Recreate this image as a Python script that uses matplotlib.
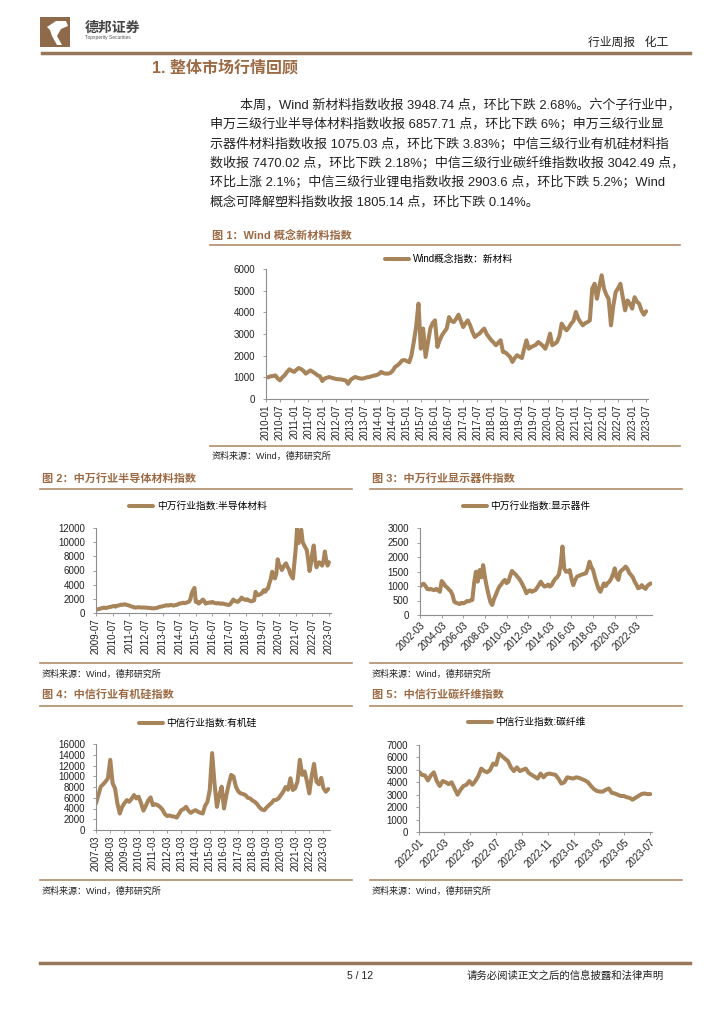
import numpy as np
import pandas as pd
import matplotlib
matplotlib.use('Agg')
import matplotlib.pyplot as plt
import matplotlib.dates as mdates
from matplotlib.patches import Rectangle, Polygon
from matplotlib.lines import Line2D

plt.rcParams['font.family'] = ['Liberation Sans', 'Noto Sans CJK SC']
plt.rcParams['axes.unicode_minus'] = False

### Page size in pixels (figure drawn at dpi 100)
W, H = 724, 1024

LINE = '#a8845b'     # series colour
BROWN = '#9c6b45'    # title colour
RULE = '#b08c68'     # thin rules round the figures
DARK = '#222222'

### ---- data ----

# Fig 1: Wind concept index, new materials, monthly 2010-01 .. 2023-07
wind_new_mat = [
    1015, 1000, 1050, 1060, 1090, 950, 860, 1000, 1100, 1250, 1370, 1300,
    1250, 1350, 1430, 1380, 1300, 1170, 1250, 1320, 1250, 1180, 1090, 1050,
    830, 950, 980, 1015, 980, 950, 920, 910, 900, 880, 850, 700,
    880, 960, 1015, 980, 950, 940, 960, 1000, 1015, 1050, 1080, 1100,
    1150, 1250, 1200, 1170, 1170, 1200, 1300, 1480, 1550, 1650, 1780, 1800,
    1750, 1700, 2000, 2630, 3320, 4400, 2320, 3250, 1940, 2600, 3250, 3500,
    3630, 2400, 2700, 2940, 3100, 3250, 3780, 3600, 3550, 3700, 3890, 3600,
    3320, 3500, 3630, 3400, 3100, 2860, 2950, 3020, 3150, 3250, 3000, 2850,
    2710, 2600, 2480, 2600, 2710, 2170, 2150, 2050, 1940, 1710, 1900, 2020,
    1950, 1890, 2300, 2710, 2320, 2400, 2450, 2500, 2630, 2550, 2450, 2320,
    2600, 3020, 2480, 2550, 2630, 2900, 3480, 3300, 3170, 3300, 3480, 3600,
    4020, 3710, 3550, 3400, 3500, 3550, 3630, 5090, 5320, 4630, 5200, 5710,
    5090, 4800, 4630, 3400, 4300, 4940, 5100, 5320, 4700, 4090, 4550, 4400,
    4170, 4700, 4500, 4400, 4090, 3890, 4050,
]

# Fig 2: SW semiconductor materials, monthly 2009-07 .. 2023-07
sw_semi = [
    470, 520, 560, 600, 680, 720,
    760, 700, 750, 800, 850, 880, 950, 980, 900, 1000, 1050, 1100,
    1180, 1150, 1200, 1230, 1150, 1100, 1050, 950, 900, 850, 760, 780,
    800, 820, 780, 760, 780, 760, 760, 740, 720, 700, 680, 660,
    660, 700, 720, 800, 880, 900, 950, 1000, 1050, 1100, 1050, 1100,
    1140, 1100, 1050, 1100, 1150, 1200, 1330, 1350, 1400, 1450, 1400, 1450,
    1520, 1600, 1900, 2750, 3200, 3550, 1560, 1600, 1330, 1500, 1700, 1900,
    1700, 1330, 1400, 1450, 1500, 1450, 1560, 1450, 1400, 1350, 1400, 1350,
    1300, 1350, 1300, 1230, 1200, 1150, 1140, 1300, 1600, 1900, 1700, 1650,
    1560, 1700, 1900, 2180, 2000, 1900, 1850, 1940, 1800, 1700, 1650, 1700,
    1800, 2990, 2700, 2510, 2600, 2700, 2900, 3220, 3000, 3300, 3460, 4200,
    4800, 5830, 5200, 4880, 5500, 7580, 6800, 6500, 6070, 6500, 6800, 7010,
    6500, 6200, 5590, 5200, 4880, 7010, 9000, 12000, 9860, 11500, 11750, 10000,
    9600, 9200, 8900, 7500, 5930, 7000, 8440, 9530, 7500, 6450, 6900, 7160,
    7000, 6690, 7200, 8680, 7500, 6690, 7160,
]

# Fig 3: SW display components, every 2 months 2002-03 .. 2023-07
sw_display = [
    980, 1050, 1080, 1000, 900, 880, 900, 870, 860, 900,
    850, 800, 1170, 1100, 1000, 950, 880, 820, 700, 460,
    420, 400, 380, 420, 400, 430, 480, 470, 500, 520,
    1100, 1490, 1150, 1550, 1300, 1720, 1300, 980, 700, 450,
    345, 550, 690, 850, 980, 1050, 1150, 1210, 1100, 1150,
    1350, 1520, 1450, 1400, 1320, 1250, 1150, 1030, 900, 750,
    820, 850, 800, 830, 860, 950, 1050, 1150, 1050, 980,
    1000, 1050, 980, 1030, 1150, 1250, 1300, 1400, 1720, 2360,
    1600, 1490, 1500, 1550, 1250, 1030, 1200, 1320, 1350, 1380,
    1400, 1420, 1440, 1600, 1840, 1650, 1550, 1300, 1090, 900,
    800, 950, 1090, 1000, 1100, 1150, 1250, 1400, 1610, 1300,
    1210, 1490, 1550, 1600, 1670, 1600, 1450, 1380, 1300, 1150,
    1050, 920, 950, 1030, 950, 900, 1000, 1050, 1090,
]

# Fig 4: CITIC silicone, every 2 months 2007-03 .. 2023-07
citic_silicone = [
    4940, 6500, 8060, 8500, 9000, 9625, 13060, 8690, 7750, 4940,
    3060, 4310, 5000, 5560, 5250, 5800, 6500, 5875, 6190, 5000,
    3600, 4500, 5500, 6060, 4625, 4800, 4625, 4300, 3800, 3000,
    2600, 2700, 2560, 2500, 2310, 3000, 3690, 3900, 4310, 3600,
    3190, 3500, 3690, 3400, 3200, 3060, 4500, 5250, 7440, 14310,
    8690, 4310, 6500, 8060, 4000, 6500, 8500, 10250, 9940, 8060,
    7200, 6810, 6700, 6500, 6000, 5875, 5500, 5250, 4800, 4200,
    3800, 3690, 4200, 4625, 5000, 5560, 5600, 5875, 6500, 7125,
    8000, 7500, 9625, 7440, 7750, 9000, 13060, 10250, 10900, 9000,
    6810, 10000, 12300, 9000, 8500, 9700, 7750, 7125, 7625,
]

# Fig 5: CITIC carbon fibre, weekly from 2022-01-01
citic_carbon = [
    4850, 4590, 4550, 4150, 4550, 4800, 4100, 3700, 4100, 4000,
    3850, 4000, 3500, 3000, 3400, 3700, 3800, 4100, 3800, 4100,
    4500, 5100, 4900, 4800, 5000, 5500, 5400, 6300, 6100, 5900,
    5700, 5200, 4900, 5200, 4900, 5000, 5100, 4750, 4600, 4450,
    4300, 4700, 4400, 4650, 4700, 4650, 4600, 4300, 3900, 4000,
    4400, 4350, 4300, 4400, 4350, 4250, 4150, 4000, 3700, 3450,
    3300, 3250, 3250, 3400, 3500, 3150, 3100, 3000, 2900, 2900,
    2800, 2750, 2600, 2750, 2900, 3050, 3100, 3050, 3050,
]

para_lines = [
    '本周，Wind 新材料指数收报 3948.74 点，环比下跌 2.68%。六个子行业中，',
    '申万三级行业半导体材料指数收报 6857.71 点，环比下跌 6%；申万三级行业显',
    '示器件材料指数收报 1075.03 点，环比下跌 3.83%；中信三级行业有机硅材料指',
    '数收报 7470.02 点，环比下跌 2.18%；中信三级行业碳纤维指数收报 3042.49 点，',
    '环比上涨 2.1%；中信三级行业锂电指数收报 2903.6 点，环比下跌 5.2%；Wind',
    '概念可降解塑料指数收报 1805.14 点，环比下跌 0.14%。',
]

source_text = '资料来源：Wind，德邦研究所'


def box(x0, y0, x1, y1):
    return [x0 / W, 1 - y1 / H, (x1 - x0) / W, (y1 - y0) / H]


def ftext(x, y, s, **kw):
    fig.text(x / W, 1 - y / H, s, **kw)


def hrule(x0, x1, y, color=RULE, lw=1.2):
    fig.add_artist(Line2D([x0 / W, x1 / W], [1 - y / H, 1 - y / H],
                          transform=fig.transFigure, color=color, lw=lw))


def draw_chart(rect, start, freq, values, label, ymax, ystep, xlim,
               locator, rot, leg_xy):
    dates = pd.date_range(start, periods=len(values), freq=freq)
    ax = fig.add_axes(box(*rect))
    ax.plot(dates, values, color=LINE, lw=2.9, label=label,
            solid_joinstyle='round', solid_capstyle='round')
    ax.set_ylim(0, ymax)
    ax.set_yticks(np.arange(0, ymax + 1, ystep))
    ax.set_xlim(pd.Timestamp(xlim[0]), pd.Timestamp(xlim[1]))
    ax.xaxis.set_major_locator(locator)
    ax.xaxis.set_major_formatter(mdates.DateFormatter('%Y-%m'))
    for s in ['top', 'right']:
        ax.spines[s].set_visible(False)
    for s in ['left', 'bottom']:
        ax.spines[s].set_color('#8f8f8f')
        ax.spines[s].set_linewidth(0.8)
    ax.tick_params(axis='both', length=2.5, width=0.6, color='#8f8f8f',
                   labelsize=7, labelcolor=DARK)
    ax.tick_params(axis='y', pad=5.5)
    ax.tick_params(axis='x', pad=1.5)
    if rot == 90:
        plt.setp(ax.get_xticklabels(), rotation=90, ha='center', va='top')
    else:
        plt.setp(ax.get_xticklabels(), rotation=45, ha='right', va='top',
                 rotation_mode='anchor')
    ax.legend(loc='center', bbox_to_anchor=(leg_xy[0] / W, 1 - leg_xy[1] / H),
              bbox_transform=fig.transFigure, frameon=False, fontsize=7,
              handlelength=2.4, handletextpad=0.4, borderaxespad=0)
    return ax


fig = plt.figure(figsize=(W / 100, H / 100), dpi=100)

### ---- page header ----
fig.add_artist(Rectangle((40 / W, 1 - 47 / H), 30 / W, 30 / H,
                         transform=fig.transFigure, color='#8e6a4a', lw=0))
fig.add_artist(Polygon([(47 / W, 1 - 27 / H), (56 / W, 1 - 21 / H), (66 / W, 1 - 21 / H),
                        (68 / W, 1 - 26 / H), (61 / W, 1 - 29 / H), (57 / W, 1 - 36 / H),
                        (62 / W, 1 - 45 / H), (57 / W, 1 - 45 / H), (52 / W, 1 - 36 / H),
                        (50 / W, 1 - 30 / H)],
                       closed=True, transform=fig.transFigure, color='white', lw=0))
ftext(85, 28, '德邦证券', fontsize=10, fontweight='bold', color='#444444', va='center')
ftext(85, 37, 'Topsperity Securities', fontsize=3.5, color='#555555', va='center')
ftext(668, 43, '行业周报   化工', fontsize=8.5, color=DARK, ha='right', va='center')
hrule(42, 690, 53, color='#98785a', lw=2.5)

### ---- section heading and text ----
ftext(152, 68, '1. 整体市场行情回顾', fontsize=11.5, fontweight='bold', color=BROWN, va='center')
para_y = [105, 125, 145, 164, 183, 202]
for i, line in enumerate(para_lines):
    ftext(240 if i == 0 else 210, para_y[i], line, fontsize=9.4, color=DARK, va='center')

### ---- Fig 1 ----
ftext(212, 235, '图 1：Wind 概念新材料指数', fontsize=8, fontweight='bold', color=BROWN, va='center')
hrule(210, 680, 244.5)
draw_chart((266, 269, 648, 399), '2010-01-01', 'MS', wind_new_mat,
           'Wind概念指数：新材料', 6000, 1000, ('2010-01-01', '2023-07-25'),
           mdates.MonthLocator(bymonth=[1, 7]), 90, (449, 259))
hrule(210, 680, 446)
ftext(212, 456, source_text, fontsize=6.5, color=DARK, va='center')

### ---- Fig 2 / Fig 3 ----
ftext(42, 479, '图 2：中万行业半导体材料指数', fontsize=8, fontweight='bold', color=BROWN, va='center')
ftext(372, 479, '图 3：中万行业显示器件指数', fontsize=8, fontweight='bold', color=BROWN, va='center')
hrule(40, 352, 489)
hrule(370, 682, 489)
draw_chart((96, 528, 331, 613), '2009-07-01', 'MS', sw_semi,
           '中万行业指数:半导体材料', 12000, 2000, ('2009-07-01', '2023-08-15'),
           mdates.YearLocator(1, month=7, day=1), 90, (198, 506))
draw_chart((420, 528, 652, 615), '2002-03-01', '2MS', sw_display,
           '中万行业指数:显示器件', 3000, 500, ('2002-03-01', '2023-08-10'),
           mdates.YearLocator(2, month=3, day=1), 45, (527, 506))
hrule(40, 352, 663)
hrule(370, 682, 663)
ftext(42, 674, source_text, fontsize=6.5, color=DARK, va='center')
ftext(372, 674, source_text, fontsize=6.5, color=DARK, va='center')

### ---- Fig 4 / Fig 5 ----
ftext(42, 695, '图 4：中信行业有机硅指数', fontsize=8, fontweight='bold', color=BROWN, va='center')
ftext(372, 695, '图 5：中信行业碳纤维指数', fontsize=8, fontweight='bold', color=BROWN, va='center')
hrule(40, 352, 705.5)
hrule(370, 682, 705.5)
draw_chart((96, 744, 330, 830), '2007-03-01', '2MS', citic_silicone,
           '中信行业指数:有机硅', 16000, 2000, ('2007-03-01', '2023-08-15'),
           mdates.YearLocator(1, month=3, day=1), 90, (198, 723))
draw_chart((419, 745, 652, 832), '2022-01-01', '7D', citic_carbon,
           '中信行业指数:碳纤维', 7000, 1000, ('2022-01-01', '2023-07-05'),
           mdates.MonthLocator(bymonth=[1, 3, 5, 7, 9, 11]), 45, (527, 722))
hrule(40, 352, 880)
hrule(370, 682, 880)
ftext(42, 891, source_text, fontsize=6.5, color=DARK, va='center')
ftext(372, 891, source_text, fontsize=6.5, color=DARK, va='center')

### ---- footer ----
hrule(40, 690, 963, color='#98785a', lw=2.5)
ftext(360, 976, '5 / 12', fontsize=7.5, color=DARK, ha='center', va='center')
ftext(467, 976, '请务必阅读正文之后的信息披露和法律声明', fontsize=7.5, color=DARK, va='center')

fig.savefig('out.png', dpi=100)
